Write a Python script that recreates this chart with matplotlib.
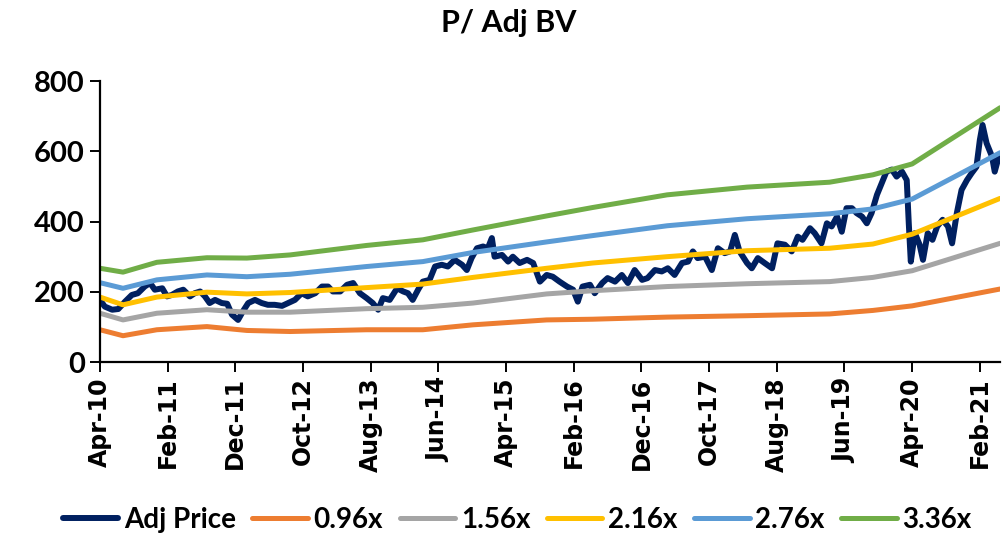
import matplotlib
matplotlib.use("Agg")
import matplotlib.pyplot as plt

# x axis = months since Apr-2010
tick_months = [0, 10, 20, 30, 40, 50, 60, 70, 80, 90, 100, 110, 120, 130]
tick_labels = ["Apr-10", "Feb-11", "Dec-11", "Oct-12", "Aug-13", "Jun-14", "Apr-15",
               "Feb-16", "Dec-16", "Oct-17", "Aug-18", "Jun-19", "Apr-20", "Feb-21"]

# adj price
price_m = [0.0, 0.7, 1.8, 2.7, 3.7, 4.7, 5.6, 6.6, 7.4, 8.1, 9.2, 9.9, 10.6, 11.5, 12.3,
           13.3, 14.0, 14.8, 15.5, 16.2, 17.0, 18.0, 18.8, 19.5, 20.4, 21.1, 21.9, 22.9,
           23.9, 24.8, 25.8, 26.9, 27.8, 28.8, 29.8, 30.7, 31.8, 32.8, 33.7, 34.4, 35.5,
           36.5, 37.4, 38.4, 39.4, 40.3, 41.1, 41.8, 42.8, 43.9, 44.8, 45.5, 46.2, 47.0,
           47.7, 48.7, 49.5, 50.5, 51.4, 52.4, 53.5, 54.2, 54.9, 55.7, 56.6, 57.3, 57.9,
           58.3, 59.4, 60.3, 61.0, 62.0, 63.1, 64.0, 65.0, 66.0, 66.9, 67.9, 69.0, 69.9,
           70.6, 71.3, 72.4, 73.1, 74.2, 75.0, 76.1, 77.1, 78.0, 79.0, 80.1, 80.9, 82.0,
           83.0, 83.9, 84.9, 86.0, 86.9, 87.6, 88.3, 89.4, 90.4, 91.3, 92.3, 93.1, 93.8,
           94.5, 95.6, 96.3, 97.2, 98.2, 99.3, 100.1, 101.2, 102.2, 103.1, 103.8, 104.9,
           105.6, 106.6, 107.4, 108.1, 108.9, 109.6, 110.3, 111.1, 111.8, 112.6, 113.3,
           114.0, 114.8, 115.5, 116.2, 117.0, 117.7, 118.5, 119.2, 119.5, 119.8, 120.4,
           121.1, 121.6, 122.3, 123.0, 123.7, 124.5, 125.3, 125.9, 126.6, 127.3, 128.1,
           128.8, 129.5, 130.0, 130.4, 131.0, 131.8, 132.2, 132.8]
price = [177, 158, 149, 151, 172, 191, 196, 215, 225, 206, 210, 187, 191, 201, 206,
         187, 196, 201, 187, 168, 177, 168, 166, 135, 120, 144, 168, 177,
         168, 163, 163, 160, 168, 177, 196, 187, 196, 215, 215, 201, 201,
         220, 225, 196, 182, 168, 149, 182, 177, 210, 201, 196, 177, 206,
         229, 234, 272, 277, 272, 291, 277, 262, 296, 324, 329, 324, 353,
         300, 305, 286, 300, 282, 291, 282, 229, 248, 243, 229, 215, 206,
         172, 215, 220, 196, 225, 239, 229, 248, 225, 262, 234, 239, 262,
         258, 267, 248, 282, 286, 315, 296, 300, 262, 324, 310, 315, 362,
         315, 282, 267, 296, 282, 267, 338, 334, 315, 357, 348, 381,
         367, 338, 395, 386, 414, 371, 438, 438, 424, 414, 395,
         424, 476, 509, 542, 548, 528, 542, 518, 395, 286, 367,
         334, 291, 367, 348, 386, 405, 386, 338, 424, 490, 518,
         538, 556, 632, 675, 623, 585, 542, 585]

# P/BV bands
band_m = [0, 3.4, 8.4, 15.8, 21.7, 28.1, 39.4, 47.7, 55.1, 66.0, 72.8, 83.8, 95.6,
          107.8, 114.2, 120, 133]
band_096 = [92, 75, 92, 101, 90, 87, 92, 92, 106, 120, 122, 128, 132, 137, 147, 160, 208]
band_156 = [139, 120, 139, 149, 142, 142, 152, 156, 168, 194, 203, 215, 223, 229, 241, 260, 338]
band_216 = [185, 163, 185, 199, 194, 198, 212, 222, 241, 267, 282, 300, 317, 324, 336, 364, 466]
band_276 = [226, 210, 234, 248, 243, 250, 272, 286, 312, 342, 360, 388, 408, 422, 436, 464, 596]
band_336 = [267, 256, 284, 297, 296, 305, 332, 348, 376, 416, 440, 476, 498, 512, 533, 564, 724]

fig = plt.figure(figsize=(10.08, 5.38), dpi=100)
ax = fig.add_axes([0.0992, 0.327, 0.893, 0.5224])

lw = 3.6
ax.plot(price_m, price, color="#002060", lw=4.3, label="Adj Price",
        solid_capstyle="round", solid_joinstyle="round")
ax.plot(band_m, band_096, color="#ED7D31", lw=lw, label="0.96x", solid_capstyle="round")
ax.plot(band_m, band_156, color="#A5A5A5", lw=lw, label="1.56x", solid_capstyle="round")
ax.plot(band_m, band_216, color="#FFC000", lw=lw, label="2.16x", solid_capstyle="round")
ax.plot(band_m, band_276, color="#5B9BD5", lw=lw, label="2.76x", solid_capstyle="round")
ax.plot(band_m, band_336, color="#70AD47", lw=lw, label="3.36x", solid_capstyle="round")

ax.set_xlim(0, 133)
ax.set_ylim(0, 800)
ax.set_yticks([0, 200, 400, 600, 800])
ax.set_xticks(tick_months)
ax.set_xticklabels(tick_labels, rotation=90, fontfamily="DejaVu Sans",
                   fontweight="bold", fontsize=17)
for t in ax.get_yticklabels():
    t.set_fontfamily("Lato")
    t.set_fontweight("bold")
    t.set_fontsize(21)

for s in ["top", "right"]:
    ax.spines[s].set_visible(False)
for s in ["left", "bottom"]:
    ax.spines[s].set_linewidth(1.6)
ax.tick_params(axis="y", length=7, width=1.4, pad=4)
ax.tick_params(axis="x", length=7, width=1.4, pad=4)

fig.text(0.505, 0.958, "P/ Adj BV", ha="center", va="center",
         fontfamily="Lato", fontweight="bold", fontsize=22)

fig.legend(loc="center", bbox_to_anchor=(0.513, 0.034), ncol=6, frameon=False,
           prop={"family": "Lato", "weight": "bold", "size": 20},
           handlelength=2.0, handletextpad=0.2, columnspacing=0.6)

fig.savefig("out.png", dpi=100)
